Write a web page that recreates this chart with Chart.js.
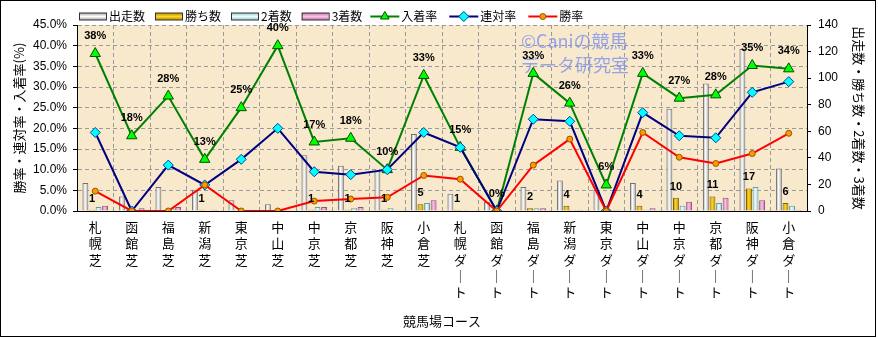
<!DOCTYPE html>
<html>
<head>
<meta charset="utf-8">
<script src="https://cdn.jsdelivr.net/npm/chart.js@4.4.1/dist/chart.umd.min.js"></script>
<style>
  html, body { margin: 0; padding: 0; background: #fff; }
  canvas { display: block; }
</style>
</head>
<body>
<canvas id="courseChart" width="878" height="338"></canvas>
<script>
// コース別成績
const courses = ['札幌芝', '函館芝', '福島芝', '新潟芝', '東京芝', '中山芝', '中京芝', '京都芝', '阪神芝', '小倉芝',
  '札幌ダート', '函館ダート', '福島ダート', '新潟ダート', '東京ダート', '中山ダート', '中京ダート', '京都ダート', '阪神ダート', '小倉ダート'];
const starts  = [21, 11, 18, 16, 8, 5, 42, 34, 30, 58, 13, 7, 18, 23, 16, 21, 77, 96, 122, 32];
const wins    = [1, 0, 0, 1, 0, 0, 1, 1, 1, 5, 1, 0, 2, 4, 0, 4, 10, 11, 17, 6];
const seconds = [3, 0, 2, 0, 1, 1, 3, 2, 2, 6, 1, 0, 2, 1, 0, 1, 4, 6, 18, 4];
const thirds  = [4, 2, 3, 1, 1, 1, 3, 3, 0, 8, 0, 0, 2, 1, 1, 2, 7, 10, 8, 1];

// 率 (%)
const top3Rate = [38.1, 18.2, 27.8, 12.5, 25.0, 40.0, 16.7, 17.6, 10.0, 32.8, 15.4, 0, 33.3, 26.1, 6.3, 33.3, 27.3, 28.1, 35.2, 34.4];
const top2Rate = [19.0, 0, 11.1, 6.3, 12.5, 20.0, 9.5, 8.8, 10.0, 19.0, 15.4, 0, 22.2, 21.7, 0, 23.8, 18.2, 17.7, 28.7, 31.3];
const winRate  = [4.8, 0, 0, 6.3, 0, 0, 2.4, 2.9, 3.3, 8.6, 7.7, 0, 11.1, 17.4, 0, 19.0, 13.0, 11.5, 13.9, 18.8];

const rateTicks = [0, 5, 10, 15, 20, 25, 30, 35, 40, 45];
const countTicks = [0, 20, 40, 60, 80, 100, 120, 140];

const JP = '"Noto Sans CJK JP", "Noto Sans", sans-serif';
const NUM = '"Liberation Sans", Arial, sans-serif';

// 円柱っぽい横グラデーション
function barFill(edge, mid) {
  return function (c) {
    const el = c.element;
    if (!el || !el.width || isNaN(el.x)) return mid;
    const g = c.chart.ctx.createLinearGradient(el.x - el.width / 2, 0, el.x + el.width / 2, 0);
    g.addColorStop(0, edge);
    g.addColorStop(0.45, mid);
    g.addColorStop(1, edge);
    return g;
  };
}

const barStyles = [
  { label: '出走数', data: starts,  edge: '#9a9a9a', mid: '#ffffff', border: '#707070' },
  { label: '勝ち数', data: wins,    edge: '#b08000', mid: '#ffd820', border: '#806000' },
  { label: '2着数',  data: seconds, edge: '#8fc4cc', mid: '#eaffff', border: '#6a9aa0' },
  { label: '3着数',  data: thirds,  edge: '#b86aa0', mid: '#ffc0e8', border: '#905080' }
];

const lineStyles = [
  { label: '入着率', data: top3Rate, color: '#008000', fill: '#00ff00', edge: '#005000', shape: 'triangle', r: 6, order: 2 },
  { label: '連対率', data: top2Rate, color: '#000080', fill: '#00ffff', edge: '#0040a0', shape: 'rectRot', r: 5, order: 1 },
  { label: '勝率',   data: winRate,  color: '#ff0000', fill: '#ff9900', edge: '#995500', shape: 'circle', r: 3, order: 0 }
];

const datasets = [];
lineStyles.forEach(s => datasets.push({
  type: 'line', label: s.label, data: s.data, yAxisID: 'y', order: s.order,
  borderColor: s.color, borderWidth: 2, tension: 0,
  pointStyle: s.shape, pointRadius: s.r, pointHoverRadius: s.r,
  pointBackgroundColor: s.fill, pointBorderColor: s.edge, pointBorderWidth: 1
}));
barStyles.forEach(s => datasets.push({
  type: 'bar', label: s.label, data: s.data, yAxisID: 'y2', order: 3,
  backgroundColor: barFill(s.edge, s.mid), borderColor: s.border, borderWidth: 1,
  categoryPercentage: 0.72, barPercentage: 0.9
}));

const frame = {
  id: 'frame',
  beforeDraw(chart) {
    const { ctx, chartArea: a } = chart;
    ctx.save();
    ctx.fillStyle = '#fff';
    ctx.fillRect(0, 0, chart.width, chart.height);
    ctx.fillStyle = '#f8e9cc';
    ctx.fillRect(a.left, a.top, a.right - a.left, a.bottom - a.top);
    ctx.strokeStyle = '#000';
    ctx.lineWidth = 1;
    ctx.strokeRect(0.5, 0.5, 875, 336);
    ctx.restore();
  },
  beforeDatasetsDraw(chart) {
    const ctx = chart.ctx;
    ctx.save();
    ctx.fillStyle = 'rgba(125, 145, 240, 0.8)';
    ctx.font = '18px ' + JP;
    ctx.textBaseline = 'middle';
    ctx.fillText('©Caniの競馬', 521, 41);
    ctx.fillText('データ研究室', 521, 65);
    ctx.restore();
  },
  afterDatasetsDraw(chart) {
    const ctx = chart.ctx;
    ctx.save();
    ctx.fillStyle = '#000';
    ctx.font = 'bold 11px ' + NUM;
    ctx.textAlign = 'center';
    ctx.textBaseline = 'middle';
    chart.getDatasetMeta(0).data.forEach((pt, i) => {
      ctx.fillText(Math.round(top3Rate[i]) + '%', pt.x, pt.y - 17.5);
    });
    chart.getDatasetMeta(4).data.forEach((bar, i) => {
      if (wins[i] > 0) ctx.fillText(String(wins[i]), bar.x, bar.y - 11);
    });
    ctx.restore();
  },
  afterDraw(chart) {
    // 凡例
    const ctx = chart.ctx;
    const cy = 16.5;
    let x = 79;
    ctx.save();
    ctx.font = '12px ' + JP;
    ctx.textBaseline = 'middle';
    barStyles.forEach(s => {
      const g = ctx.createLinearGradient(0, cy - 4, 0, cy + 4);
      g.addColorStop(0, s.edge); g.addColorStop(0.5, s.mid); g.addColorStop(1, s.edge);
      ctx.fillStyle = g;
      ctx.fillRect(x, cy - 3.5, 27, 7);
      ctx.strokeStyle = '#333';
      ctx.strokeRect(x + 0.5, cy - 3.5, 27, 7);
      ctx.fillStyle = '#000';
      ctx.fillText(s.label, x + 30, cy);
      x += 30 + ctx.measureText(s.label).width + 10;
    });
    x -= 2;
    lineStyles.forEach(s => {
      ctx.strokeStyle = s.color;
      ctx.lineWidth = 2;
      ctx.beginPath();
      ctx.moveTo(x, cy); ctx.lineTo(x + 29, cy);
      ctx.stroke();
      ctx.fillStyle = s.fill;
      ctx.strokeStyle = s.edge;
      ctx.lineWidth = 1;
      Chart.helpers.drawPoint(ctx, { pointStyle: s.shape, radius: s.shape === 'circle' ? 3 : 5, borderWidth: 1 }, x + 14.5, cy);
      ctx.fillStyle = '#000';
      ctx.fillText(s.label, x + 31, cy);
      x += 31 + ctx.measureText(s.label).width + 12;
    });
    ctx.restore();
  }
};

const chart = new Chart(document.getElementById('courseChart'), {
  data: { labels: courses, datasets: datasets },
  options: {
    responsive: false,
    animation: false,
    devicePixelRatio: 1,
    layout: { padding: { top: 25, left: 0, right: 0, bottom: 0 } },
    plugins: { legend: { display: false }, tooltip: { enabled: false } },
    scales: {
      x: {
        offset: true,
        grid: { offset: true, color: '#9a9a9a', drawTicks: false },
        border: { color: '#000', dash: [4, 3] },
        ticks: {
          autoSkip: false, maxRotation: 0, minRotation: 0, padding: 8, color: '#000',
          font: { family: JP, size: 13, lineHeight: 1.25 },
          callback: (v, i) => courses[i].replace(/ー/g, '｜').split('')
        },
        title: { display: true, text: '競馬場コース', color: '#000', font: { family: JP, size: 13 }, padding: { top: 0, bottom: 9 } },
        afterFit(s) { s.height = 127; }
      },
      y: {
        position: 'left', min: 0, max: 45,
        afterBuildTicks(s) { s.ticks = rateTicks.map(v => ({ value: v })); },
        grid: { color: '#9a9a9a', tickColor: '#000', tickLength: 4 },
        border: { color: '#000', dash: [4, 3] },
        ticks: { padding: 6, color: '#000', font: { family: NUM, size: 12 }, callback: v => v.toFixed(1) + '%' },
        title: { display: true, text: '勝率・連対率・入着率(%)', color: '#000', font: { family: JP, size: 13 }, padding: { top: 11 } },
        afterFit(s) { s.width = 77; }
      },
      y2: {
        position: 'right', min: 0, max: 140,
        afterBuildTicks(s) { s.ticks = countTicks.map(v => ({ value: v })); },
        grid: { drawOnChartArea: false, tickColor: '#000', tickLength: 4 },
        border: { color: '#000' },
        ticks: { padding: 7, color: '#000', font: { family: NUM, size: 12 } },
        title: { display: true, text: '出走数・勝ち数・2着数・3着数', color: '#000', font: { family: JP, size: 13 }, padding: { top: 11 } },
        afterFit(s) { s.width = 71; }
      }
    }
  },
  plugins: [frame]
});
// グラデーションは要素の位置が決まってから作り直す
chart.update('none');
</script>
</body>
</html>
